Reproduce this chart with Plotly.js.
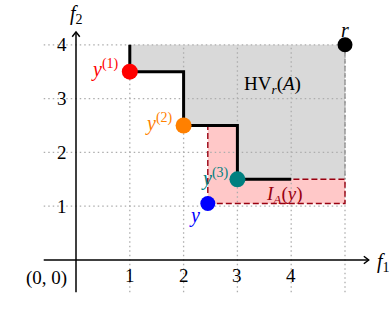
<!DOCTYPE html>
<html><head><meta charset="utf-8">
<script src="https://cdn.plot.ly/plotly-3.0.1.min.js"></script>
<style>html,body{margin:0;padding:0;background:#fff}#chart{width:390px;height:310px}</style>
</head><body><div id="chart"></div>
<script>
// ---- data ----
const paretoX = [1, 2, 3];
const paretoY = [3.5, 2.5, 1.5];
const paretoLabels = ['<i>y</i><sup>(1)</sup>', '<i>y</i><sup>(2)</sup>', '<i>y</i><sup>(3)</sup>'];
const newPointX = [2.45];
const newPointY = [1.05];
const newPointLabel = ['<i>y</i>'];
const refX = [5];
const refY = [4];
const refLabel = ['<i>r</i>'];
const stairEndX = 4;
const xTickVals = [1, 2, 3, 4];
const xTickText = ['1', '2', '3', '4'];
const yTickVals = [1, 2, 3, 4];
const yTickText = ['1', '2', '3', '4'];
const originLabel = '(0, 0)';
const axisMin = -0.6;
const xAxisMax = 5.44;
const yAxisMax = 4.24;

// ---- styles ----
const FONT = 'Liberation Serif, DejaVu Serif, serif';
const colors = ['#ff0000', '#ff8000', '#008080'];
const blue = '#0000ff';
const rX = refX[0], rY = refY[0];

const traces = [];

// HV region (gray)
const hvX = [paretoX[0]], hvY = [rY];
for (let i = 0; i < paretoX.length; i++) {
  hvX.push(paretoX[i]); hvY.push(paretoY[i]);
  hvX.push(i + 1 < paretoX.length ? paretoX[i + 1] : rX); hvY.push(paretoY[i]);
}
hvX.push(rX); hvY.push(rY);
traces.push({x: hvX, y: hvY, mode: 'lines', fill: 'toself', fillcolor: '#d9d9d9', line: {width: 0}, hoverinfo: 'skip'});

// I_A(y) region (pink) — area dominated by y and not by A
const yx = newPointX[0], yy = newPointY[0];
const iaX = [yx], iaY = [yy];
iaX.push(rX); iaY.push(yy);
const pts = [];
for (let i = paretoX.length - 1; i >= 0; i--) {
  if (paretoX[i] >= yx) pts.push([paretoX[i], paretoY[i]]);
}
iaX.push(rX); iaY.push(pts[0][1]);
for (let k = 0; k < pts.length; k++) {
  iaX.push(pts[k][0]); iaY.push(pts[k][1]);
  const nextY = k + 1 < pts.length ? pts[k + 1][1] : paretoY[paretoX.findIndex(v => v >= yx) - 1];
  iaX.push(pts[k][0]); iaY.push(nextY);
}
iaX.push(yx); iaY.push(iaY[iaY.length - 1]);
iaX.push(yx); iaY.push(yy);
traces.push({x: iaX, y: iaY, mode: 'lines', fill: 'toself', fillcolor: '#ffc8c8', line: {width: 0}, hoverinfo: 'skip'});

// grid
const gx = [], gy = [];
xTickVals.concat(refX).forEach(v => { gx.push(v, v, null); gy.push(axisMin, rY, null); });
yTickVals.forEach(v => { gx.push(axisMin, rX, null); gy.push(v, v, null); });
traces.push({x: gx, y: gy, mode: 'lines', line: {color: '#adadad', width: 1.3, dash: '1.5px,3px'}, hoverinfo: 'skip'});

// gray dashed right edge of HV
traces.push({x: [rX, rX], y: [rY, paretoY[paretoY.length - 1]], mode: 'lines', line: {color: '#8c8c8c', width: 1.3, dash: '5px,2px'}, hoverinfo: 'skip'});

// red dashed outline of I_A(y)
traces.push({x: iaX, y: iaY, mode: 'lines', line: {color: '#990010', width: 1.4, dash: '6px,3px'}, hoverinfo: 'skip'});

// staircase
const sx = [paretoX[0]], sy = [rY];
for (let i = 0; i < paretoX.length; i++) {
  sx.push(paretoX[i]); sy.push(paretoY[i]);
  sx.push(i + 1 < paretoX.length ? paretoX[i + 1] : stairEndX); sy.push(paretoY[i]);
}
traces.push({x: sx, y: sy, mode: 'lines', line: {color: '#000', width: 3}, hoverinfo: 'skip'});

// axes with arrowheads
const ahL = 0.09, ahW = 0.07;
traces.push({x: [axisMin, xAxisMax, null, xAxisMax - ahL, xAxisMax, xAxisMax - ahL],
             y: [0, 0, null, ahW, 0, -ahW], mode: 'lines', line: {color: '#000', width: 1.5}, hoverinfo: 'skip'});
traces.push({x: [0, 0, null, -ahW, 0, ahW],
             y: [axisMin, yAxisMax, null, yAxisMax - ahL, yAxisMax, yAxisMax - ahL], mode: 'lines', line: {color: '#000', width: 1.5}, hoverinfo: 'skip'});

// points
traces.push({x: paretoX, y: paretoY, mode: 'markers', marker: {size: 16, color: colors}, hoverinfo: 'skip'});
traces.push({x: newPointX, y: newPointY, mode: 'markers', marker: {size: 15, color: blue}, hoverinfo: 'skip'});
traces.push({x: refX, y: refY, mode: 'markers', marker: {size: 15, color: '#000'}, hoverinfo: 'skip'});

// annotations
const ann = [];
const fnt = (c, s) => ({family: FONT, size: s || 19, color: c || '#000'});
xTickVals.forEach((v, i) => ann.push({x: v, y: 0, text: xTickText[i], showarrow: false, yshift: -15, font: fnt('#000', 19)}));
yTickVals.forEach((v, i) => ann.push({x: 0, y: v, text: yTickText[i], showarrow: false, xshift: -14, font: fnt('#000', 19)}));
ann.push({x: 0, y: 0, text: originLabel, showarrow: false, xshift: -30, yshift: -18, font: fnt('#000', 19)});
const lblShift = [[-25, 3], [-25, 3], [-22, 2]];
paretoX.forEach((v, i) => ann.push({x: v, y: paretoY[i], text: paretoLabels[i], showarrow: false,
  xshift: lblShift[i][0], yshift: lblShift[i][1], font: fnt(colors[i], 20)}));
ann.push({x: newPointX[0], y: newPointY[0], text: newPointLabel[0], showarrow: false, xshift: -13, yshift: -12, font: fnt(blue, 20)});
ann.push({x: refX[0], y: refY[0], text: refLabel[0], showarrow: false, yshift: 15, font: fnt('#000', 20)});
ann.push({x: 3.65, y: 3.25, text: 'HV<sub><i>r</i></sub>(<i>A</i>)', showarrow: false, font: fnt('#000', 19)});
ann.push({x: 3.87, y: 1.2, text: '<i>I<sub>A</sub></i>(<i>y</i>)', showarrow: false, font: fnt('#990010', 19)});
ann.push({x: xAxisMax, y: 0, text: '<i>f</i><sub>1</sub>', showarrow: false, xanchor: 'left', xshift: 6, yshift: -2, font: fnt('#000', 20)});
ann.push({x: 0, y: yAxisMax, text: '<i>f</i><sub>2</sub>', showarrow: false, yanchor: 'bottom', yshift: 3, font: fnt('#000', 20)});

const layout = {
  width: 390, height: 310,
  margin: {l: 0, r: 0, t: 0, b: 0},
  paper_bgcolor: '#fff', plot_bgcolor: '#fff',
  showlegend: false, hovermode: false,
  xaxis: {range: [-1.4126, 5.8364], visible: false, fixedrange: true},
  yaxis: {range: [-0.9294, 4.8327], visible: false, fixedrange: true},
  annotations: ann
};
Plotly.newPlot('chart', traces, layout, {displayModeBar: false, staticPlot: true});
</script></body></html>
